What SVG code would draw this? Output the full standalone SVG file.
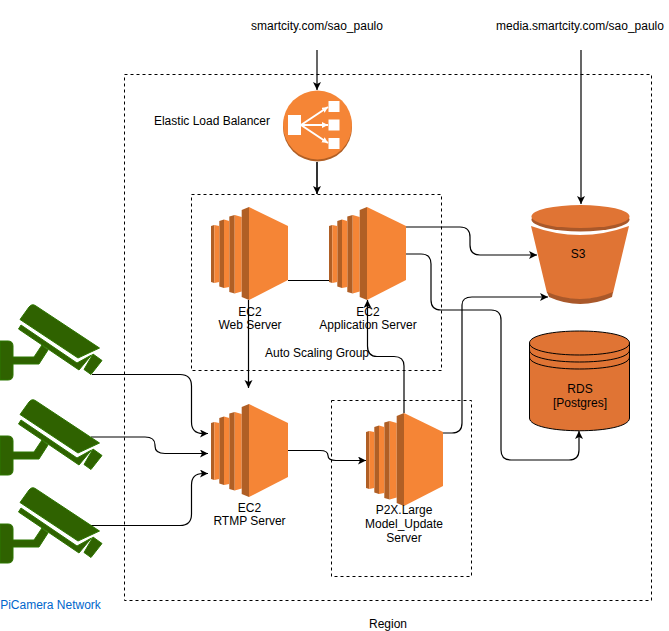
<svg xmlns="http://www.w3.org/2000/svg" width="669" height="631" viewBox="0 0 669 631">
<style>
text{font-family:"Liberation Sans",Arial,sans-serif;font-size:12px;fill:#000;text-anchor:middle}
.box{fill:none;stroke:#000;stroke-width:1;stroke-dasharray:3 3}
.c{fill:none;stroke:#000;stroke-width:1.2}
.l{fill:#F58536}.d{fill:#B05F25}
.cam{fill:#2F6200;stroke:#2D7600;stroke-width:1;stroke-linejoin:round}
.s{fill:#E07434}.sd{fill:#A9582A}
</style>
<defs>
<marker id="a" markerWidth="10" markerHeight="10" refX="8" refY="4" orient="auto" markerUnits="userSpaceOnUse"><path d="M0 0L8 4L0 8L2 4Z" fill="#000"/></marker>
<marker id="w" markerWidth="8" markerHeight="8" refX="6" refY="3" orient="auto" markerUnits="userSpaceOnUse"><path d="M0 0L6 3L0 6Z" fill="#fff"/></marker>
<g id="ec2shape">
<path class="d" d="M0 19L3.300 18V76L0 75ZM8.300 14L13 12.500V81L8.300 79.500ZM18.300 9.500L23.700 8V86.500L18.300 85Z"/>
<path class="l" d="M3.300 18L8.300 19V75L3.300 76ZM13 12.500L18.300 14V80L13 81ZM23.700 8L30.700 10V84.500L23.700 86.500Z"/>
<path class="d" d="M30.700 3L38 0V93L30.700 90Z"/>
<path class="l" d="M38 0L77 19V73L38 93Z"/>
</g>
<g id="camshape">
<path class="cam" d="M20 29.500L29 17Q32 13 36 16L99.500 58L78 68Z"/>
<path class="cam" d="M21 35L77 73L91.500 65L79 80L18.500 39Z"/>
<path class="cam" d="M93 64L102 70.500L91 84.500L84 79.500Z"/>
<path class="cam" d="M0 51H8Q13 51 13 56V67H34L42 55L48 60L39 74H13V85Q13 90 8 90H0Z"/>
</g>
</defs>
<g id="connectors">
<path class="c" marker-end="url(#a)" d="M317 50V90"/>
<path class="c" marker-end="url(#a)" d="M581 50V204"/>
<path class="c" style="stroke-width:1.600" marker-end="url(#a)" d="M317 162V194"/>
<path class="c" d="M288 280.500H330"/>
<path class="c" marker-end="url(#a)" d="M406 227H460Q470 227 470 237V245Q470 255 480 255H537"/>
<path class="c" marker-end="url(#a)" d="M406 254H421Q431 254 431 264V300Q431 310 441 310H491Q501 310 501 320V450Q501 460 511 460H569Q579 460 579 450V431"/>
<path class="c" marker-end="url(#a)" d="M248.500 300V388"/>
<path class="c" marker-end="url(#a)" d="M92 374.500H180Q191.500 374.500 191.500 386V422Q191.500 433.500 203 433.500H208"/>
<path class="c" marker-end="url(#a)" d="M91 437H145Q155 437 155 445V446Q155 453.500 165 453.500H208"/>
<path class="c" marker-end="url(#a)" d="M90 525.500H180Q191.500 525.500 191.500 514V485Q191.500 473.500 203 473.500H208"/>
<path class="c" marker-end="url(#a)" d="M288 450.500H320Q328 450.500 328 455.500Q328 460.500 336 460.500H366"/>
<path class="c" marker-end="url(#a)" d="M404 413V366Q404 356.500 394 356.500H377Q367.500 356.500 367.500 346V300"/>
<path class="c" marker-end="url(#a)" d="M443 433H452Q462 433 462 423V305Q462 297 472 297H548"/>
</g>
<g id="region"><rect class="box" x="124.500" y="74.500" width="527" height="526"/><text x="388" y="628">Region</text></g>
<g id="asg"><rect class="box" x="191.500" y="194.500" width="250" height="176"/><text x="317" y="357">Auto Scaling Group</text></g>
<g id="p2xbox"><rect class="box" x="331.500" y="400.500" width="140" height="176"/></g>
<g id="url1"><text x="317" y="30">smartcity.com/sao_paulo</text></g>
<g id="url2"><text x="580" y="30">media.smartcity.com/sao_paulo</text></g>
<g id="elb">
<text x="212" y="125">Elastic Load Balancer</text>
<circle class="d" cx="317.500" cy="127" r="34.500"/>
<circle class="l" cx="317.500" cy="125" r="34.500"/>
<g fill="#fff"><rect x="288" y="115" width="13" height="20"/><rect x="328.500" y="101" width="11" height="11"/><rect x="328.500" y="119.500" width="11" height="11"/><rect x="328.500" y="138" width="11" height="11"/></g>
<g stroke="#fff" stroke-width="2"><path d="M301 125L328 107" marker-end="url(#w)"/><path d="M301 125H328" marker-end="url(#w)"/><path d="M301 125L328 143" marker-end="url(#w)"/></g>
</g>
<g id="web"><use href="#ec2shape" x="211" y="207"/><text x="250" y="316">EC2</text><text x="250" y="329">Web Server</text></g>
<g id="app"><use href="#ec2shape" x="329" y="207"/><text x="368" y="316">EC2</text><text x="368" y="329">Application Server</text></g>
<g id="rtmp"><use href="#ec2shape" x="211" y="404"/><text x="249.500" y="512">EC2</text><text x="249.500" y="525">RTMP Server</text></g>
<g id="p2x"><use href="#ec2shape" x="366" y="413"/><text x="404" y="514">P2X.Large</text><text x="404" y="528">Model_Update</text><text x="404" y="542">Server</text></g>
<g id="s3">
<path class="s" d="M531 226Q580 244 629 226L613 293Q580 306 547 293Z"/>
<path class="sd" d="M547 292Q580 306 613 292L612 297Q580 311 549 297Z"/>
<ellipse class="sd" cx="580.500" cy="219.500" rx="49" ry="12"/>
<ellipse class="s" cx="580.500" cy="216.500" rx="49" ry="11.500"/>
<text x="578" y="258">S3</text>
</g>
<g id="rds">
<path d="M529.500 343C529.500 327 629.500 327 629.500 343V418C629.500 435 529.500 435 529.500 418Z" fill="#E07434" stroke="#000"/>
<path d="M529.500 343C529.500 359 629.500 359 629.500 343M529.500 350C529.500 366 629.500 366 629.500 350M529.500 357C529.500 373 629.500 373 629.500 357" fill="none" stroke="#000"/>
<text x="580" y="393">RDS</text><text x="580" y="407">[Postgres]</text>
</g>
<g id="cam1"><use href="#camshape" x="0" y="290"/></g>
<g id="cam2"><use href="#camshape" x="0" y="385"/></g>
<g id="cam3"><use href="#camshape" x="0" y="473"/></g>
<g id="net"><text x="50.500" y="609" style="fill:#0066CC">PiCamera Network</text></g>
</svg>
